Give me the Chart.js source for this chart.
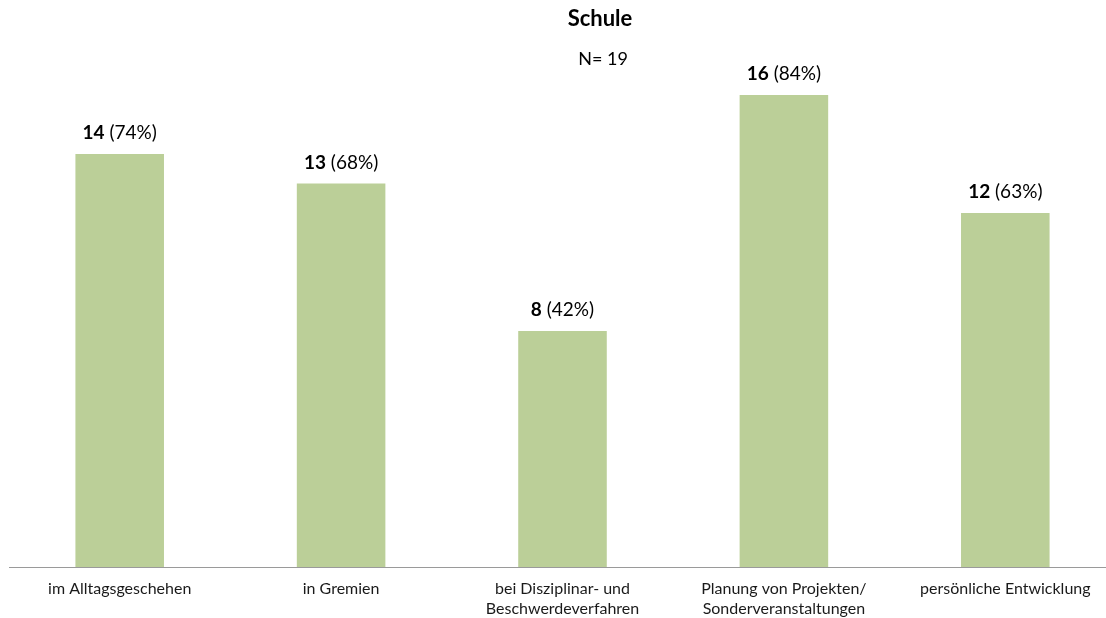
<!DOCTYPE html>
<html>
<head>
<meta charset="utf-8">
<script src="https://cdn.jsdelivr.net/npm/chart.js@4/dist/chart.umd.min.js"></script>
<style>
  html, body { margin: 0; padding: 0; background: #fff; overflow: hidden; }
  #wrap { width: 1116px; height: 618px; }
</style>
</head>
<body>
<div id="wrap"><canvas id="c"></canvas></div>
<script>
// Antworten im Bereich Schule (N = 19)
const categories = [
  'im Alltagsgeschehen',
  'in Gremien',
  ['bei Disziplinar- und', 'Beschwerdeverfahren'],
  ['Planung von Projekten/', 'Sonderveranstaltungen'],
  'persönliche Entwicklung'
];
const counts = [14, 13, 8, 16, 12];
const percents = [74, 68, 42, 84, 63];
const chartTitle = 'Schule';
const sampleSize = 'N= 19';

const FONT = 'Lato, "Open Sans", sans-serif';

// Beschriftung: fette Anzahl, dahinter der Anteil in Klammern
const valueLabels = {
  id: 'valueLabels',
  afterDatasetsDraw(chart) {
    const ctx = chart.ctx;
    const meta = chart.getDatasetMeta(0);
    ctx.save();
    ctx.textBaseline = 'middle';
    ctx.fillStyle = '#000';
    meta.data.forEach((bar, i) => {
      const a = String(counts[i]);
      const b = ' (' + percents[i] + '%)';
      ctx.font = 'bold 19px ' + FONT;
      const wa = ctx.measureText(a).width;
      ctx.font = '19px ' + FONT;
      const wb = ctx.measureText(b).width;
      const x0 = bar.x - (wa + wb) / 2;
      const y = bar.y - 21;
      ctx.textAlign = 'left';
      ctx.font = 'bold 19px ' + FONT;
      ctx.fillText(a, x0, y);
      ctx.font = '19px ' + FONT;
      ctx.fillText(b, x0 + wa, y);
    });
    ctx.restore();
  }
};

// Überschrift und Stichprobengröße
const headerText = {
  id: 'headerText',
  afterDraw(chart) {
    const ctx = chart.ctx;
    ctx.save();
    ctx.fillStyle = '#000';
    ctx.textAlign = 'center';
    ctx.textBaseline = 'middle';
    ctx.font = 'bold 22px ' + FONT;
    ctx.fillText(chartTitle, 600, 19);
    ctx.font = '18px ' + FONT;
    ctx.fillText(sampleSize, 603, 59);
    ctx.restore();
  }
};

new Chart(document.getElementById('c'), {
  type: 'bar',
  data: {
    labels: categories,
    datasets: [{
      data: counts,
      backgroundColor: '#BBCF98',
      borderWidth: 0,
      barPercentage: 0.4,
      categoryPercentage: 1.0
    }]
  },
  options: {
    responsive: true,
    maintainAspectRatio: false,
    animation: false,
    layout: { padding: { left: 9, right: 0, top: 36, bottom: 0 } },
    plugins: {
      legend: { display: false },
      tooltip: { enabled: false },
      title: { display: false }
    },
    scales: {
      x: {
        grid: { display: false, drawTicks: false },
        border: { display: true, color: '#9a9a9a', width: 1 },
        ticks: {
          color: '#1a1a1a',
          font: { family: FONT, size: 16, lineHeight: 1.25 },
          padding: 12,
          maxRotation: 0,
          autoSkip: false
        },
        afterFit(scale) { scale.height = 51; }
      },
      y: {
        display: false,
        min: 0,
        max: 18
      }
    }
  },
  plugins: [valueLabels, headerText]
});
</script>
</body>
</html>
